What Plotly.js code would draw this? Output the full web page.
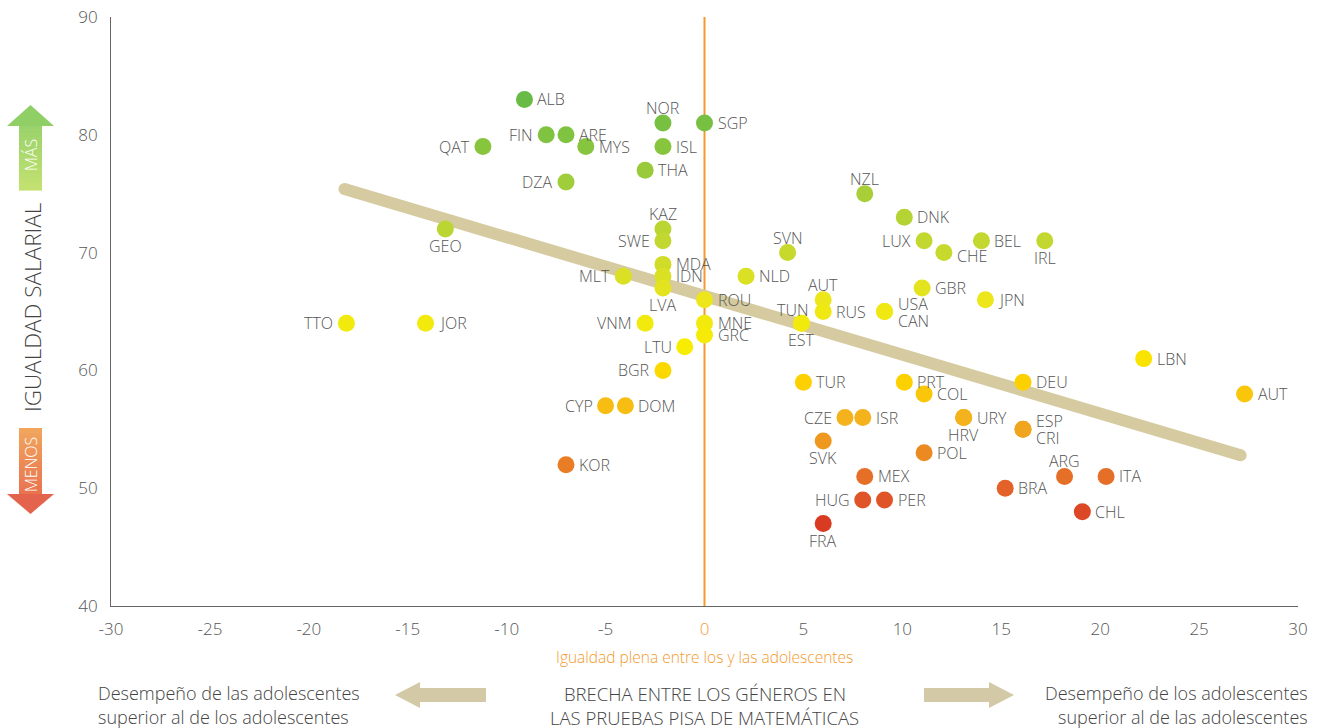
<!DOCTYPE html>
<html><head><meta charset="utf-8">
<script src="https://cdn.plot.ly/plotly-3.0.1.min.js"></script>
<style>html,body{margin:0;padding:0;background:#fff;} #chart{width:1319px;height:728px;}</style>
</head><body><div id="chart"></div>
<script>
// ---- data ----
const countries = ["ALB","NOR","SGP","FIN","ARE","QAT","MYS","ISL","THA","DZA","NZL","DNK","KAZ","SWE","GEO","SVN","LUX","CHE","BEL","IRL","MDA","IDN","LVA","MLT","NLD","ROU","AUT","RUS","GBR","JPN","USA","CAN","TUN","EST","TTO","JOR","VNM","MNE","GRC","LTU","BGR","LBN","TUR","PRT","DEU","COL","AUT","CYP","DOM","CZE","ISR","URY","HRV","ESP","CRI","SVK","POL","KOR","MEX","ARG","ITA","BRA","HUG","PER","CHL","FRA"];
const gapX = [-9.1,-2.1,0,-8.0,-7.0,-11.2,-6.0,-2.1,-3.0,-7.0,8.1,10.1,-2.1,-2.1,-13.1,4.2,11.1,12.1,14.0,17.2,-2.1,-2.1,-2.1,-4.1,2.1,0,6.0,6.0,11.0,14.2,9.1,9.1,4.9,4.9,-18.1,-14.1,-3.0,0,0,-1.0,-2.1,22.2,5.0,10.1,16.1,11.1,27.3,-5.0,-4.0,7.1,8.0,13.1,13.1,16.1,16.1,6.0,11.1,-7.0,8.1,18.2,20.3,15.2,8.0,9.1,19.1,6.0];
const payY = [83,81,81,80,80,79,79,79,77,76,75,73,72,71,72,70,71,70,71,71,69,68,67,68,68,66,66,65,67,66,65,65,64,64,64,64,64,64,63,62,60,61,59,59,59,58,58,57,57,56,56,56,56,55,55,54,53,52,51,51,51,50,49,49,48,47];
const labelPos = ["r","t","r","l","r","l","r","r","r","l","t","r","t","l","b","t","l","r2","r","b","r","r","b","l","r","r","t","r","r","r","ur","lr","tl","b","l","r","l","r","r","l","l","r","r","r","r","r","r","l","r","l","r","r","b","ur","lr","b","r","r","r","t","r","r","l","r","r","b"];
const trendX = [-18.2, 27.1];
const trendY = [75.4, 52.8];
const xTicks = [-30,-25,-20,-15,-10,-5,0,5,10,15,20,25,30];
const yTicks = [40,50,60,70,80,90];
const yTitle = "IGUALDAD SALARIAL";
const moreLabel = "MÁS";
const lessLabel = "MENOS";
const xNote = "Igualdad plena entre los y las adolescentes";
const xTitleLines = ["BRECHA ENTRE LOS GÉNEROS EN", "LAS PRUEBAS PISA DE MATEMÁTICAS"];
const leftNoteLines = ["Desempeño de las adolescentes", "superior al de los adolescentes"];
const rightNoteLines = ["Desempeño de los adolescentes", "superior al de las adolescentes"];

// ---- geometry helpers (plot area in px) ----
const L = 111, R = 1298, T = 17, B = 606;
const W = 1319, H = 728;
const px = x => (x - L) / (R - L);
const py = y => (B - y) / (B - T);
const LIGHT = 300;

function hex(c){return [parseInt(c.slice(1,3),16),parseInt(c.slice(3,5),16),parseInt(c.slice(5,7),16)];}
function mix(a,b,t){const A=hex(a),Bc=hex(b);return 'rgb('+A.map((v,i)=>Math.round(v+(Bc[i]-v)*t)).join(',')+')';}

const shapes = [];
shapes.push({type:'line', xref:'x', yref:'paper', x0:0, x1:0, y0:0, y1:1, layer:'below', line:{color:'#f39a2e', width:2}});

function stem(x0,x1,y0,y1,c0,c1,n){
  for(let i=0;i<n;i++){
    const a=y0+(y1-y0)*i/n, b=y0+(y1-y0)*(i+1)/n+0.6;
    shapes.push({type:'rect', xref:'paper', yref:'paper', x0:px(x0), x1:px(x1), y0:py(a), y1:py(b), line:{width:0}, fillcolor:mix(c0,c1,(i+0.5)/n)});
  }
}
function poly(pts,color){
  const d='M'+pts.map(p=>px(p[0])+','+py(p[1])).join(' L')+' Z';
  shapes.push({type:'path', xref:'paper', yref:'paper', path:d, line:{width:0}, fillcolor:color});
}
stem(19,42,125,190,'#98d26a','#c4e171',16);
poly([[7,126],[54,126],[30.5,105]],'#8fcf66');
stem(19,42,428,495,'#f1a65c','#e8724f',16);
poly([[7,494],[54,494],[30.5,514]],'#e4634d');

poly([[395,695],[420,682],[420,688],[486,688],[486,702],[420,702],[420,708]],'#d3c9a6');
poly([[1014,695],[989,682],[989,688],[924,688],[924,702],[989,702],[989,708]],'#d3c9a6');

// ---- point labels ----
const posMap = {
  r:{xanchor:'left',yanchor:'middle',xshift:11,yshift:0},
  r2:{xanchor:'left',yanchor:'middle',xshift:11,yshift:-3},
  l:{xanchor:'right',yanchor:'middle',xshift:-11,yshift:0},
  t:{xanchor:'center',yanchor:'middle',xshift:0,yshift:15},
  b:{xanchor:'center',yanchor:'middle',xshift:0,yshift:-17},
  ur:{xanchor:'left',yanchor:'middle',xshift:11,yshift:8},
  lr:{xanchor:'left',yanchor:'middle',xshift:11,yshift:-9},
  tl:{xanchor:'center',yanchor:'middle',xshift:-9,yshift:13}
};
const annotations = countries.map((c,i)=>Object.assign({
  x:gapX[i], y:payY[i], xref:'x', yref:'y', text:c, showarrow:false,
  font:{size:16, color:'#555', weight:LIGHT}
}, posMap[labelPos[i]]));

annotations.push({xref:'paper', yref:'paper', x:px(32), y:py(307), text:yTitle, textangle:-90, showarrow:false, font:{size:22.5, color:'#444', weight:LIGHT}, xanchor:'center', yanchor:'middle'});
annotations.push({xref:'paper', yref:'paper', x:px(31), y:py(155), text:moreLabel, textangle:-90, showarrow:false, font:{size:16, color:'#fff', weight:LIGHT}, xanchor:'center', yanchor:'middle'});
annotations.push({xref:'paper', yref:'paper', x:px(31), y:py(465), text:lessLabel, textangle:-90, showarrow:false, font:{size:16, color:'#fff', weight:LIGHT}, xanchor:'center', yanchor:'middle'});
annotations.push({xref:'x', yref:'paper', x:0, y:py(657), text:xNote, showarrow:false, font:{size:15.5, color:'#f39a2e', weight:LIGHT}, xanchor:'center', yanchor:'middle'});

const lineY = [693, 717];
lineY.forEach((yy,k)=>{
  annotations.push({xref:'x', yref:'paper', x:0, y:py(yy), text:xTitleLines[k], showarrow:false, font:{size:18.5, color:'#444', weight:LIGHT}, xanchor:'center', yanchor:'middle', borderpad:0});
  annotations.push({xref:'paper', yref:'paper', x:px(97), y:py(yy), text:leftNoteLines[k], showarrow:false, font:{size:18, color:'#444', weight:LIGHT}, xanchor:'left', yanchor:'middle', borderpad:0});
  annotations.push({xref:'paper', yref:'paper', x:px(1309), y:py(yy), text:rightNoteLines[k], showarrow:false, font:{size:18, color:'#444', weight:LIGHT}, xanchor:'right', yanchor:'middle', borderpad:0});
});

const colorscale = [
  [0,'#d93a22'],[0.083,'#e2622a'],[0.167,'#ec8a22'],[0.25,'#f4b31d'],[0.333,'#fdd000'],
  [0.417,'#f8ec00'],[0.528,'#ece61a'],[0.639,'#c8d92e'],[0.778,'#a8cf38'],[1,'#67bb46']
];

const traces = [
  {x:trendX, y:trendY, mode:'lines+markers', line:{color:'#d6cba0', width:12}, marker:{size:12, color:'#d6cba0'}, hoverinfo:'skip', showlegend:false},
  {x:gapX, y:payY, text:countries, mode:'markers', hoverinfo:'text',
   marker:{size:17, color:payY, colorscale:colorscale, cmin:47, cmax:83, line:{width:0}}, showlegend:false}
];

const layout = {
  width:W, height:H,
  margin:{l:L, r:W-R, t:T, b:H-B},
  paper_bgcolor:'#fff', plot_bgcolor:'#fff',
  font:{family:'"Open Sans", sans-serif', color:'#555'},
  xaxis:{range:[-30,30], tickvals:xTicks,
    ticktext:xTicks.map(v=>v===0?'<span style="color:#f39a2e">0</span>':String(v)),
    showgrid:false, zeroline:false, showline:true, linecolor:'#666', linewidth:1,
    ticks:'', tickfont:{size:17, color:'#555', weight:LIGHT}, ticklabelstandoff:8, fixedrange:true},
  yaxis:{range:[40,90], tickvals:yTicks, ticktext:yTicks.map(String),
    showgrid:false, zeroline:false, showline:true, linecolor:'#666', linewidth:1,
    ticks:'', tickfont:{size:17, color:'#555', weight:LIGHT}, ticklabelstandoff:9, fixedrange:true},
  shapes:shapes,
  annotations:annotations,
  showlegend:false
};

Plotly.newPlot('chart', traces, layout, {displayModeBar:false, staticPlot:true});
</script>
</body></html>
